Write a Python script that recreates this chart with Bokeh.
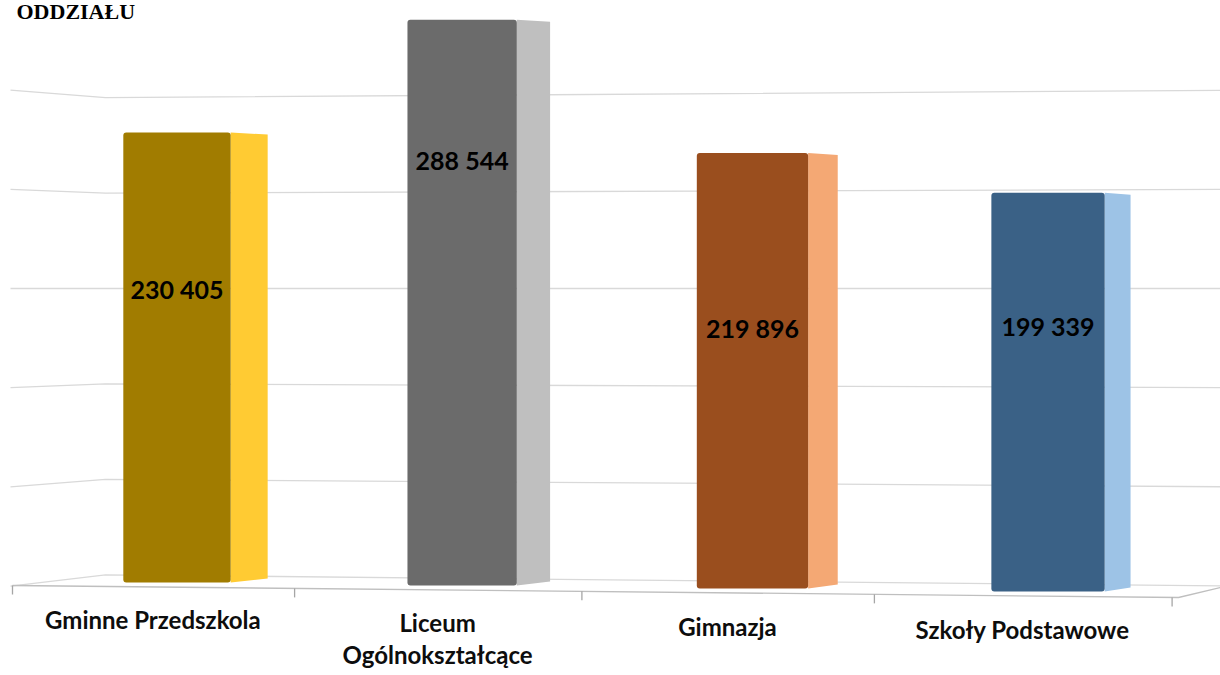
from bokeh.plotting import figure
from bokeh.models import Range1d, Label
from bokeh.core.properties import value
from bokeh.embed import file_html
from bokeh.resources import INLINE

# ---- data ----
categories = ["Gminne Przedszkola", "Liceum\nOgólnokształcące", "Gimnazja", "Szkoły Podstawowe"]
values = [230405, 288544, 219896, 199339]
value_labels = ["230 405", "288 544", "219 896", "199 339"]
grid_values = [0, 50000, 100000, 150000, 200000, 250000]
title_text = "ODDZIAŁU"

# ---- style ----
front_colors = ["#A17C00", "#6B6B6B", "#9A4E1E", "#3A6186"]
side_colors = ["#FFCB33", "#BFBFBF", "#F4A874", "#9DC3E6"]
label_frac = [0.65, 0.75, 0.59, 0.655]
PX = 515.5          # value units per screen pixel
Y0 = 579            # screen row of the zero line
FONT = "Lato"
W, H = 1220, 675


def X(u):
    # perspective spacing of category slots (u in category units)
    return 279.5 * u + 2.6 * u * u


def v_at_row(row):
    return (Y0 - row) * PX


def floor_front(x):
    # front floor edge (value units) at data x
    return v_at_row(585 + 12.0 * x / 1166.0)


p = figure(width=W, height=H, x_range=Range1d(-12, W - 12),
           y_range=Range1d(v_at_row(H), v_at_row(0)),
           output_backend="svg", toolbar_location=None, min_border=0)
p.axis.visible = False
p.grid.visible = False
p.outline_line_color = None
p.background_fill_color = "white"
p.border_fill_color = "white"

# ---- perspective gridlines (walls) ----
xs, ys = [], []
for v in grid_values:
    k = 0.0099 * (1 - v / 150000.0)
    left_row = 288 - (v - 150000) / 50000.0 * 99.2
    corner_x, right_x = 93, W - 12
    xs.append([-2, corner_x, right_x])
    ys.append([v_at_row(left_row),
               v - (corner_x + 12 - 580) * k * PX,
               v - (right_x + 12 - 580) * k * PX])
p.multi_line(xs, ys, line_color="#D9D9D9", line_width=1.3)

# ---- floor front edge & ticks ----
p.line([0, 1166, W - 12], [floor_front(0), floor_front(1166), v_at_row(587)],
       line_color="#BFBFBF", line_width=1.3)
tick_x = [X(i) for i in range(len(categories) + 1)]
p.segment(x0=tick_x, y0=[floor_front(x) for x in tick_x],
          x1=tick_x, y1=[floor_front(x) - 9 * PX for x in tick_x],
          line_color="#A6A6A6", line_width=1.3)

# ---- bars ----
lefts = [X(i + 0.395) for i in range(len(values))]
rights = [X(i + 0.775) for i in range(len(values))]
bottoms = [floor_front((l + r) / 2) + 4.6 * PX for l, r in zip(lefts, rights)]
depths = [37 - 3.7 * i for i in range(len(values))]

side_xs, side_ys = [], []
for r, b, t, d in zip(rights, bottoms, values, depths):
    side_xs.append([r, r + d, r + d, r])
    side_ys.append([t, t - 2 * PX, b + 4 * PX, b])
p.patches(side_xs, side_ys, fill_color=side_colors, line_color=None)
p.quad(left=lefts, right=rights, bottom=bottoms, top=values,
       fill_color=front_colors, line_color=None, border_radius=3)

# ---- value labels ----
p.text(x=[(l + r) / 2 for l, r in zip(lefts, rights)],
       y=[v * f for v, f in zip(values, label_frac)],
       text=value_labels, text_align="center", text_baseline="middle",
       text_font=value(FONT), text_font_style="bold",
       text_font_size="25px", text_color="#000000")

# ---- category labels ----
p.text(x=[X(i + 0.5) for i in range(len(categories))],
       y=[v_at_row(604 + 3.5 * i) for i in range(len(categories))],
       text=categories, text_align="center", text_baseline="top",
       text_font=value(FONT), text_font_style="bold",
       text_font_size="24px", text_color="#0D0D0D", text_line_height=1.1)

# ---- cut title ----
p.add_layout(Label(x=16, y=H + 2, x_units="screen", y_units="screen",
                   text=title_text, text_baseline="top",
                   text_font="Liberation Serif", text_font_style="bold",
                   text_font_size="22px", text_color="#000000"))

open("out.html", "w").write(file_html(p, INLINE))
